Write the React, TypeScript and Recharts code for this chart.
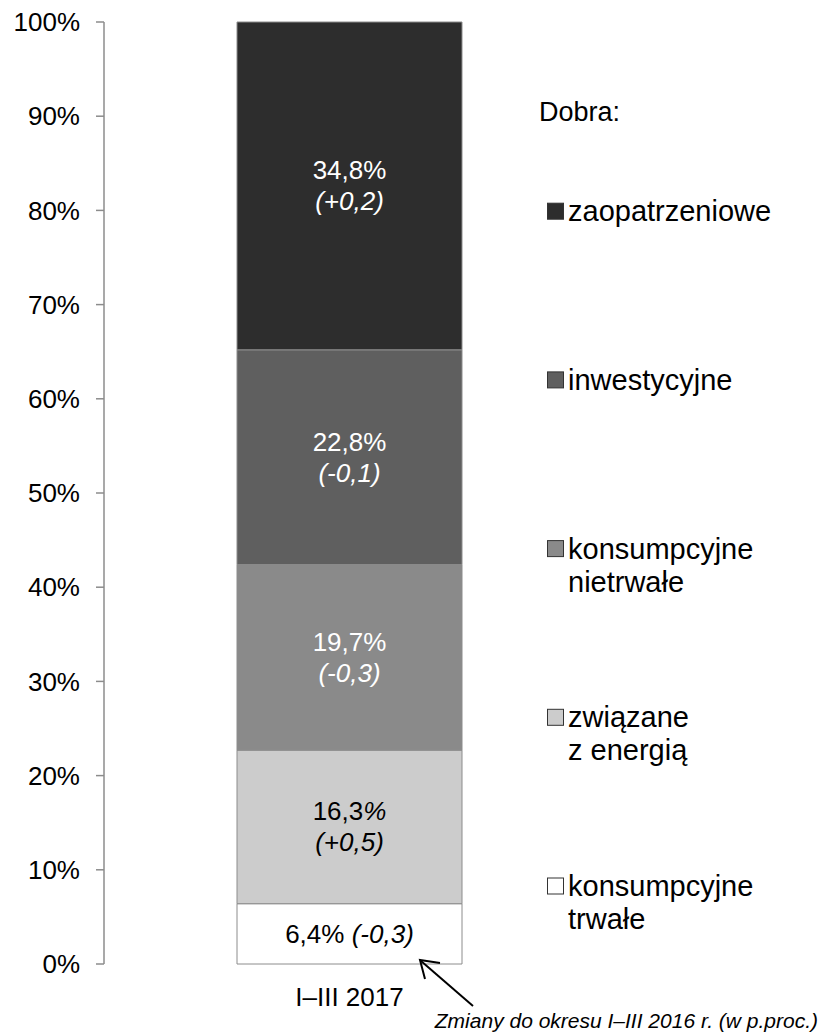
import React from "react";
import { BarChart, Bar, XAxis, YAxis, LabelList } from "recharts";

// --- Data ---

const categories = ["I–III 2017"];
const seriesKeys = ["trwale", "energia", "nietrwale", "inwestycyjne", "zaopatrzeniowe"];
const shares = [6.4, 16.3, 19.7, 22.8, 34.8];
const changes = ["-0,3", "+0,5", "-0,3", "-0,1", "+0,2"];
const legendLines = [
  ["konsumpcyjne", "trwałe"],
  ["związane", "z energią"],
  ["konsumpcyjne", "nietrwałe"],
  ["inwestycyjne"],
  ["zaopatrzeniowe"],
];
const yTicks = [0, 10, 20, 30, 40, 50, 60, 70, 80, 90, 100];

// --- Style ---

const FONT = "'Liberation Sans', Arial, sans-serif";
const FILLS = ["#ffffff", "#cccccc", "#8a8a8a", "#5f5f5f", "#2d2d2d"];
const LABEL_COLORS = ["#000000", "#000000", "#ffffff", "#ffffff", "#ffffff"];
const AXIS_COLOR = "#8c8c8c";

const W = 824;
const H = 1034;

function fmt(v: number) {
  return v.toFixed(1).replace(".", ",");
}

const data = categories.map((name) => {
  const row: Record<string, any> = { name };
  seriesKeys.forEach((k, i) => {
    row[k] = shares[i];
  });
  return row;
});

function makeLabel(i: number) {
  return (props: any) => {
    const { x, y, width, height } = props;
    const cx = x + width / 2;
    const cy = y + height / 2;
    const color = LABEL_COLORS[i];
    if (i === 0) {
      return (
        <text x={cx} y={cy} textAnchor="middle" dominantBaseline="central" fill={color} fontSize={26} fontFamily={FONT}>
          {fmt(shares[i])}%{" "}
          <tspan fontStyle="italic">({changes[i]})</tspan>
        </text>
      );
    }
    return (
      <g>
        <text x={cx} y={cy - 15.5} textAnchor="middle" dominantBaseline="central" fill={color} fontSize={26} fontFamily={FONT}>
          {fmt(shares[i])}
          {i === 1 ? <tspan fontStyle="italic">%</tspan> : "%"}
        </text>
        <text x={cx} y={cy + 15.5} textAnchor="middle" dominantBaseline="central" fill={color} fontSize={26} fontFamily={FONT} fontStyle="italic">
          ({changes[i]})
        </text>
      </g>
    );
  };
}

// --- Legend + annotation overlay ---

function Overlay() {
  const legendTop = 886;
  const step = 168.7;
  return (
    <svg width={W} height={H} style={{ position: "absolute", left: 0, top: 0, pointerEvents: "none" }}>
      <text x={539} y={112} dominantBaseline="central" fontSize={27} fontFamily={FONT} fill="#000">
        Dobra:
      </text>
      {legendLines.map((lines, i) => {
        const cy = legendTop - i * step;
        return (
          <g key={i}>
            <rect x={547.5} y={cy - 8} width={16} height={16} fill={FILLS[i]} stroke="#333" strokeWidth={1} />
            {lines.map((ln, j) => (
              <text key={j} x={568} y={cy + j * 33} dominantBaseline="central" fontSize={29} fontFamily={FONT} fill="#000">
                {ln}
              </text>
            ))}
          </g>
        );
      })}
      <line x1={473} y1={1006} x2={421} y2={961} stroke="#000" strokeWidth={2} />
      <polyline points="440,963 420,960 425,979" fill="none" stroke="#000" strokeWidth={2} />
      <text x={818} y={1020} textAnchor="end" dominantBaseline="central" fontSize={21} fontStyle="italic" fontFamily={FONT} fill="#000">
        Zmiany do okresu I–III 2016 r. (w p.proc.)
      </text>
    </svg>
  );
}

export default function App() {
  return (
    <div style={{ position: "absolute", left: 0, top: 0, width: W, height: H, background: "#fff" }}>
      <BarChart width={W} height={H} data={data} margin={{ top: 22, right: 229, bottom: 0, left: 0 }}>
        <XAxis
          dataKey="name"
          height={70}
          axisLine={false}
          tickLine={false}
          tickSize={0}
          tickMargin={24}
          tick={{ fill: "#000", fontSize: 26, fontFamily: FONT }}
        />
        <YAxis
          width={104}
          domain={[0, 100]}
          ticks={yTicks}
          tickFormatter={(v) => `${v}%`}
          axisLine={{ stroke: AXIS_COLOR, strokeWidth: 1.5 }}
          tickLine={{ stroke: AXIS_COLOR, strokeWidth: 1.5 }}
          tickSize={8}
          tickMargin={16}
          tick={{ fill: "#000", fontSize: 26, fontFamily: FONT }}
          interval={0}
        />
        {seriesKeys.map((k, i) => (
          <Bar
            key={k}
            dataKey={k}
            stackId="a"
            barSize={225}
            fill={FILLS[i]}
            stroke={AXIS_COLOR}
            strokeWidth={1}
            isAnimationActive={false}
          >
            <LabelList dataKey={k} content={makeLabel(i)} />
          </Bar>
        ))}
      </BarChart>
      <Overlay />
    </div>
  );
}
